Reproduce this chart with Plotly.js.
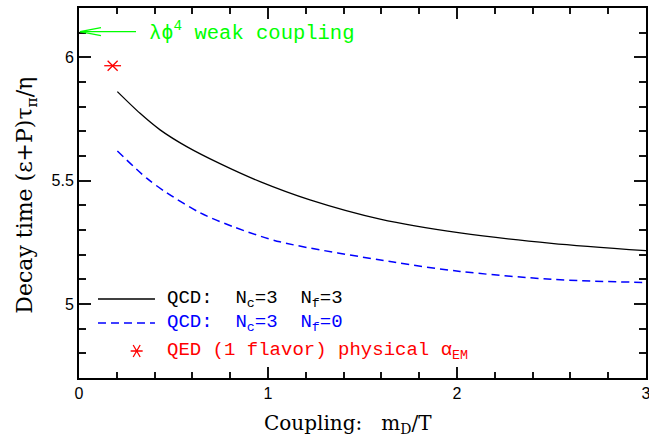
<!DOCTYPE html>
<html>
<head>
<meta charset="utf-8">
<script src="https://cdn.plot.ly/plotly-3.0.1.min.js"></script>
<style>html,body{margin:0;padding:0;background:#fff;}#chart{width:649px;height:445px;}</style>
</head>
<body>
<div id="chart"></div>
<script>
// QCD Nc=3 Nf=3 (solid black)
const xQCD3 = [0.203, 0.323, 0.429, 0.570, 0.746, 0.958, 1.222, 1.593, 2.016, 2.500, 3.0];
const yQCD3 = [5.861, 5.773, 5.706, 5.638, 5.569, 5.496, 5.422, 5.344, 5.288, 5.246, 5.216];
// QCD Nc=3 Nf=0 (dashed blue)
const xQCD0 = [0.203, 0.358, 0.464, 0.640, 0.817, 1.063, 1.663, 2.016, 2.500, 3.0];
const yQCD0 = [5.620, 5.510, 5.451, 5.370, 5.313, 5.252, 5.170, 5.132, 5.100, 5.087];
// QED (1 flavor) physical alpha_EM
const xQED = [0.178];
const yQED = [5.966];
// lambda phi^4 weak coupling value (arrow)
const phi4Value = 6.104;

const legendLabels = [
  "QCD:&nbsp;&nbsp;N<sub>c</sub>=3&nbsp;&nbsp;N<sub>f</sub>=3",
  "QCD:&nbsp;&nbsp;N<sub>c</sub>=3&nbsp;&nbsp;N<sub>f</sub>=0",
  "QED&nbsp;(1&nbsp;flavor)&nbsp;physical&nbsp;α<sub>EM</sub>"
];
const legendColors = ["#000000", "#0000ff", "#ff0000"];

const monoFont = "Liberation Mono, Courier New, monospace";
const serifFont = "DejaVu Serif, serif";
const sansFont = "Liberation Sans, Arial, sans-serif";

const traces = [
  {x: xQCD3, y: yQCD3, mode: "lines", line: {color: "#000", width: 1.3, shape: "spline", smoothing: 0.8}, showlegend: false, hoverinfo: "skip"},
  {x: xQCD0, y: yQCD0, mode: "lines", line: {color: "#0000ff", width: 1.5, dash: "8px,5px", shape: "spline", smoothing: 0.8}, showlegend: false, hoverinfo: "skip"},
  {x: xQED, y: yQED, mode: "markers", marker: {symbol: "x-thin-open", size: 10, color: "#ff0000", line: {color: "#ff0000", width: 1.3}}, showlegend: false, hoverinfo: "skip"},
  {x: xQED, y: yQED, mode: "markers", marker: {symbol: "line-ew-open", size: 12, color: "#ff0000", line: {color: "#ff0000", width: 1.3}}, showlegend: false, hoverinfo: "skip"}
];

const legY = [0.2135, 0.1486, 0.073];
const annotations = [
  {x: 0, y: phi4Value, xref: "x", yref: "y", xshift: 68, xanchor: "left", yanchor: "middle", showarrow: false,
   text: "λϕ<sup>4</sup>&nbsp;weak&nbsp;coupling", font: {family: monoFont, size: 20.5, color: "#00ff00"}},
  {xref: "paper", yref: "paper", x: 0.474, y: -0.125, xanchor: "center", yanchor: "middle", showarrow: false,
   text: "Coupling:&nbsp;&nbsp;&nbsp;m<sub>D</sub>/T", font: {family: serifFont, size: 20, color: "#000"}},
  {xref: "paper", yref: "paper", x: -0.092, y: 0.495, xanchor: "center", yanchor: "middle", showarrow: false, textangle: -90,
   text: "Decay time (ε+P)τ<sub>π</sub>/η", font: {family: serifFont, size: 22, color: "#000"}}
];
for (let i = 0; i < 3; i++) {
  annotations.push({xref: "paper", yref: "paper", x: 0.1517, y: legY[i], xanchor: "left", yanchor: "middle", showarrow: false,
    text: legendLabels[i], font: {family: monoFont, size: 19, color: legendColors[i]}});
}

const shapes = [
  // arrow shaft and open arrowhead for the lambda phi^4 value
  {type: "line", xref: "x", yref: "y", xsizemode: "pixel", xanchor: 0, x0: 1, x1: 57, y0: phi4Value, y1: phi4Value, line: {color: "#00ff00", width: 1.3}},
  {type: "path", xref: "x", yref: "y", xsizemode: "pixel", ysizemode: "pixel", xanchor: 0, yanchor: phi4Value,
   path: "M 22,4 L 1,0 L 22,-4", line: {color: "#00ff00", width: 1.3}},
  // legend samples
  {type: "line", xref: "paper", yref: "paper", x0: 0.0335, x1: 0.134, y0: legY[0], y1: legY[0], line: {color: "#000", width: 1.3}},
  {type: "line", xref: "paper", yref: "paper", x0: 0.0335, x1: 0.134, y0: legY[1], y1: legY[1], line: {color: "#0000ff", width: 1.5, dash: "8px,5px"}},
  {type: "path", xref: "paper", yref: "paper", xsizemode: "pixel", ysizemode: "pixel", xanchor: 0.1017, yanchor: legY[2],
   path: "M -6,0 L 6,0 M -3.5,-6 L 3.5,6 M -3.5,6 L 3.5,-6", line: {color: "#ff0000", width: 1.3}}
];

const layout = {
  width: 649, height: 445,
  margin: {l: 79, r: 3, t: 8, b: 67},
  paper_bgcolor: "#fff", plot_bgcolor: "#fff",
  showlegend: false,
  xaxis: {
    range: [0, 3], tickmode: "linear", tick0: 0, dtick: 1,
    ticks: "inside", ticklen: 11, tickwidth: 2, tickcolor: "rgb(20,20,20)",
    minor: {dtick: 0.2, ticks: "inside", ticklen: 6, tickwidth: 2, tickcolor: "rgb(20,20,20)"},
    showline: true, linecolor: "#000", linewidth: 2, mirror: "ticks",
    showgrid: false, zeroline: false, ticklabeloverflow: "allow",
    tickfont: {family: sansFont, size: 16, color: "#000"}
  },
  yaxis: {
    range: [4.7, 6.2], tickmode: "linear", tick0: 5, dtick: 0.5,
    ticks: "inside", ticklen: 12, tickwidth: 2, tickcolor: "rgb(20,20,20)",
    minor: {dtick: 0.1, ticks: "inside", ticklen: 7, tickwidth: 2, tickcolor: "rgb(20,20,20)"},
    showline: true, linecolor: "#000", linewidth: 2, mirror: "ticks",
    showgrid: false, zeroline: false,
    tickfont: {family: sansFont, size: 16, color: "#000"}
  },
  annotations: annotations,
  shapes: shapes
};

Plotly.newPlot("chart", traces, layout, {displayModeBar: false});
</script>
</body>
</html>
